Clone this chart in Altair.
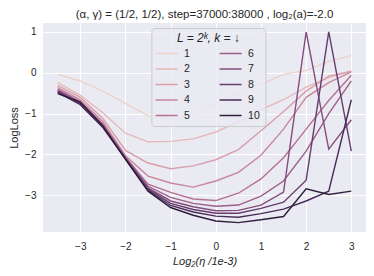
import altair as alt
import numpy as np
import pandas as pd

# x positions: Log2(eta / 1e-3)
eta = [-3.5, -3.0, -2.5, -2.0, -1.5, -1.0, -0.5, 0.0, 0.5, 1.0, 1.5, 2.0, 2.5, 3.0]

# LogLoss for each depth L = 2^k
k1 = [-0.04, -0.20, -0.45, -0.75, -1.05, -1.13, -1.02, -0.75, -0.50, -0.28, -0.04, 0.06, 0.28, 0.42]
k2 = [-0.24, -0.55, -0.98, -1.48, -1.69, -1.68, -1.62, -1.45, -1.20, -0.90, -0.66, -0.35, -0.12, 0.04]
k3 = [-0.31, -0.60, -1.12, -1.90, -2.21, -2.35, -2.28, -2.13, -1.88, -1.42, -0.95, -0.45, -0.08, 0.04]
k4 = [-0.36, -0.66, -1.20, -2.03, -2.53, -2.70, -2.80, -2.65, -2.44, -2.02, -1.38, -0.60, -0.24, 0.02]
k5 = [-0.40, -0.70, -1.25, -2.06, -2.73, -2.93, -3.09, -3.13, -2.95, -2.60, -2.08, -1.38, -0.68, -0.06]
k6 = [-0.42, -0.72, -1.28, -2.08, -2.78, -3.05, -3.20, -3.27, -3.24, -3.02, -2.65, -1.92, -1.00, -0.20]
k7 = [-0.44, -0.74, -1.30, -2.09, -2.82, -3.14, -3.28, -3.38, -3.37, -3.24, -2.92, 1.00, -1.87, -1.15]
k8 = [-0.46, -0.76, -1.32, -2.10, -2.85, -3.20, -3.35, -3.44, -3.44, -3.32, -3.17, -2.63, 1.00, -1.92]
k9 = [-0.48, -0.78, -1.34, -2.11, -2.88, -3.25, -3.41, -3.51, -3.54, -3.45, -3.34, -3.14, -2.90, -0.66]
k10 = [-0.51, -0.72, -1.30, -2.12, -2.90, -3.30, -3.49, -3.63, -3.67, -3.60, -3.52, -2.84, -2.98, -2.90]

series = [k1, k2, k3, k4, k5, k6, k7, k8, k9, k10]
k_labels = ["1", "2", "3", "4", "5", "6", "7", "8", "9", "10"]


def cubehelix_hex(n, start=0.0, rot=0.4, gamma=1.0, hue=0.8, light=0.85, dark=0.15):
    out = []
    for x in np.linspace(light, dark, n):
        xg = x ** gamma
        a = hue * xg * (1 - xg) / 2
        phi = 2 * np.pi * (start / 3 + rot * x)
        r = xg + a * (-0.14861 * np.cos(phi) + 1.78277 * np.sin(phi))
        g = xg + a * (-0.29227 * np.cos(phi) - 0.90649 * np.sin(phi))
        b = xg + a * (1.97294 * np.cos(phi))
        rgb = [int(round(255 * min(max(c, 0.0), 1.0))) for c in (r, g, b)]
        out.append("#%02x%02x%02x" % tuple(rgb))
    return out


palette = cubehelix_hex(len(k_labels))

rows = []
for lab, vals in zip(k_labels, series):
    for xv, yv in zip(eta, vals):
        rows.append({"eta": xv, "loss": yv, "k": lab, "kn": int(lab)})
df = pd.DataFrame(rows)

FONT = "Liberation Sans"
TXT = "#262626"

chart = alt.Chart(df).mark_line(strokeWidth=1.4).encode(
    x=alt.X(
        "eta:Q",
        scale=alt.Scale(domain=[-3.825, 3.325], nice=False, zero=False),
        axis=alt.Axis(values=[-3, -2, -1, 0, 1, 2, 3], title="Log₂(η /1e-3)",
                      titleFontStyle="italic", format="d"),
    ),
    y=alt.Y(
        "loss:Q",
        scale=alt.Scale(domain=[-3.9, 1.22], nice=False, zero=False),
        axis=alt.Axis(values=[-3, -2, -1, 0, 1], title="LogLoss", format="d"),
    ),
    color=alt.Color(
        "k:N",
        scale=alt.Scale(domain=k_labels, range=palette),
        legend=alt.Legend(
            orient="none", legendX=108.4, legendY=5,
            columns=2, direction="vertical", title="L = 2ᵏ, k = ↓", titleFontStyle="italic",
            titleFontSize=12, titleFont=FONT, titleColor=TXT, titleFontWeight="normal",
            titleAnchor="middle", titlePadding=2,
            labelFont=FONT, labelFontSize=10.5, labelColor=TXT, labelOffset=11,
            symbolType="M-2,0H2", symbolSize=121, symbolStrokeWidth=1.5,
            symbolOffset=3.7, rowPadding=3.5, columnPadding=26,
            padding=5, fillColor="rgba(234,234,242,0.8)", strokeColor="#cccccc",
            cornerRadius=3,
        ),
    ),
    order=alt.Order("eta:Q"),
    detail="kn:Q",
).properties(
    width=323,
    height=209,
    autosize=alt.AutoSizeParams(type="none"),
    padding={"left": 35, "top": 15, "right": 0, "bottom": 36},
    title=alt.TitleParams(
        "(α, γ) = (1/2, 1/2), step=37000:38000 , log₂(a)=-2.0",
        fontSize=11.5, font=FONT, color=TXT, fontWeight="normal", offset=3, anchor="middle",
    ),
).configure_view(
    fill="#eaeaf2", stroke=None
).configure_axis(
    domain=False, ticks=False, grid=True, gridColor="white", gridWidth=1,
    labelFont=FONT, labelFontSize=10, labelColor=TXT,
    titleFont=FONT, titleFontSize=11, titleColor=TXT, titleFontWeight="normal",
).configure_axisX(
    labelPadding=9, titlePadding=4,
).configure_axisY(
    labelPadding=7, titlePadding=5,
)

chart.save("out.html", embed_options={"renderer": "svg", "actions": False})
